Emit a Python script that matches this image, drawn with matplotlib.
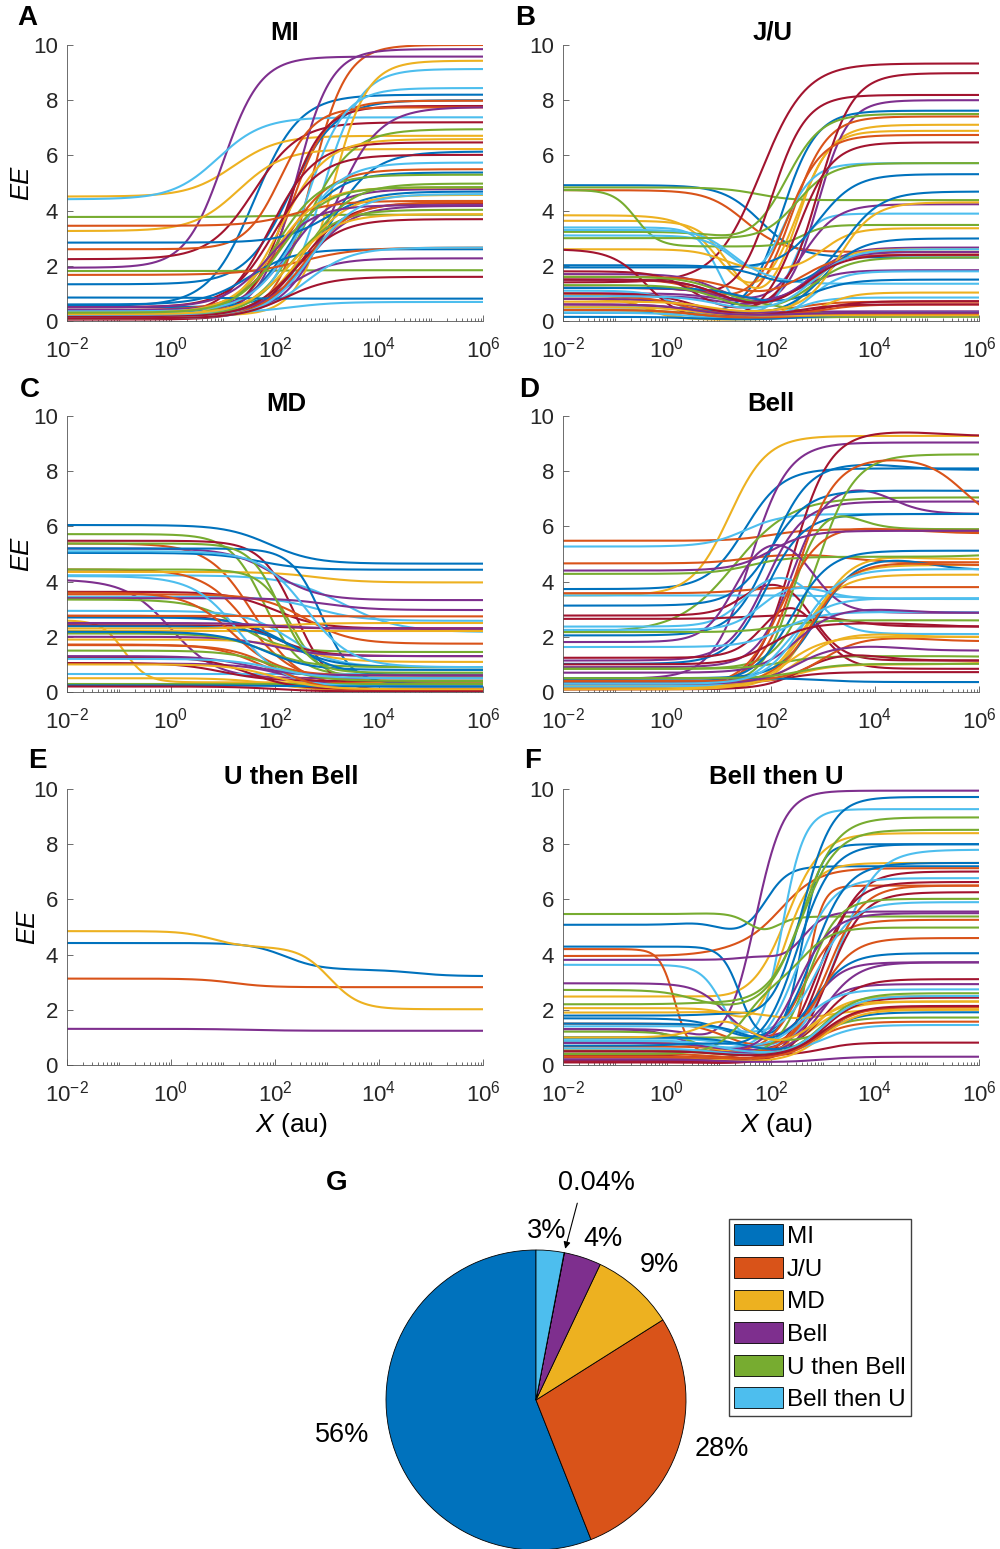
import numpy as np
import matplotlib
matplotlib.use('Agg')
import matplotlib.pyplot as plt
from matplotlib.ticker import LogLocator, NullFormatter

plt.rcParams['font.family'] = ['Liberation Sans', 'DejaVu Sans']
plt.rcParams['mathtext.fontset'] = 'custom'
plt.rcParams['mathtext.rm'] = 'Liberation Sans'
plt.rcParams['mathtext.it'] = 'Liberation Sans:italic'
plt.rcParams['mathtext.bf'] = 'Liberation Sans:bold'

# MATLAB default colour order: blue, orange, yellow, purple, green, light blue, red
matlab = ['#0072BD', '#D95319', '#EDB120', '#7E2F8E', '#77AC30', '#4DBEEE', '#A2142F']

# Every curve = plateau levels + log10(X) of each transition between them,
# read off the figure. Rows of 7 follow the colour order above.

# A  MI : (start, end), (mid,)
mi_levels = [(0.55, 8.20), (0.20, 10.0), (4.51, 6.71), (1.93, 9.58), (3.77, 3.85), (4.41, 7.38), (2.24, 7.20),
             (1.33, 8.00), (0.30, 7.98), (3.26, 6.23), (0.30, 9.85), (1.81, 1.84), (0.15, 9.13), (0.10, 7.79),
             (0.50, 6.14), (2.60, 7.74), (0.20, 9.43), (0.20, 7.75), (0.25, 6.95), (0.30, 8.44), (0.20, 6.47),
             (0.30, 5.38), (0.40, 5.50), (0.15, 6.59), (0.40, 4.78), (0.10, 5.30), (0.35, 5.74), (0.50, 6.02),
             (2.84, 4.69), (3.45, 4.35), (0.30, 4.84), (0.10, 4.17), (0.20, 4.98), (0.30, 0.69), (0.05, 4.27),
             (0.60, 2.60), (1.67, 2.66), (0.10, 4.57), (0.15, 2.27), (0.15, 4.03), (0.20, 2.66), (0.15, 3.69),
             (0.85, 0.81), (0.10, 4.30), (0.25, 3.87), (0.50, 4.20), (0.30, 4.85), (0.10, 4.60), (0.10, 1.60)]
mi_mids = [(1.6,), (2.7,), (1.2,), (1.0,), (2.0,), (0.9,), (1.6,),
           (2.3,), (2.3,), (1.3,), (2.4,), (2.0,), (2.9,), (2.2,),
           (3.0,), (2.1,), (3.1,), (3.1,), (2.6,), (2.6,), (1.9,),
           (2.3,), (2.2,), (2.1,), (2.3,), (2.0,), (2.4,), (2.0,),
           (3.0,), (2.4,), (2.0,), (2.6,), (2.6,), (2.3,), (2.5,),
           (1.5,), (2.5,), (2.5,), (2.2,), (2.3,), (2.6,), (2.4,),
           (1.0,), (2.6,), (2.3,), (1.9,), (2.1,), (2.7,), (2.2,)]
mi_n = [1.0, 1.3, 1.0, 1.2, 1.0, 1.0, 1.0,
        1.0, 1.2, 1.0, 1.3, 1.0, 1.2, 1.2,
        1.0, 1.3, 1.3, 1.0, 1.0, 1.2, 1.0,
        1.0, 1.0, 1.0, 1.0, 1.0, 1.0, 1.0,
        1.0, 1.0, 1.0, 1.0, 1.0, 1.0, 1.0,
        1.0, 0.8, 1.0, 1.0, 1.0, 1.0, 1.0,
        1.0, 1.0, 1.0, 1.0, 1.0, 1.0, 1.0]

# B  J/U : (start, minimum, end), (down mid, up mid)
ju_levels = [(4.92, 2.3, 2.3), (4.74, 2.5, 2.5), (3.83, 0.5, 7.11), (0.9, 0.5, 8.0), (4.84, 4.3, 4.38), (3.39, 0.1, 3.89), (1.4, 1.4, 9.33),
             (0.3, 0.1, 7.62), (1.5, 0.3, 7.41), (3.63, 0.3, 6.89), (1.7, 0.5, 4.23), (4.75, 2.7, 3.48), (3.1, 0.5, 5.72), (1.8, 0.3, 8.98),
             (1.94, 1.9, 5.32), (1.2, 0.5, 6.74), (2.6, 1.8, 3.36), (1.0, 0.6, 2.66), (3.23, 2.8, 7.5), (3.3, 1.7, 1.35), (1.2, 0.6, 8.19),
             (2.02, 1.0, 4.69), (0.8, 0.3, 0.7), (1.0, 0.05, 2.6), (1.2, 0.6, 1.84), (3.0, 2.9, 5.72), (1.1, 0.1, 0.85), (2.6, 0.05, 6.47),
             (0.5, 0.2, 2.99), (1.6, 0.8, 2.4), (0.8, 0.05, 1.03), (0.8, 0.3, 0.35), (1.6, 0.6, 0.2), (0.5, 0.05, 1.8), (1.0, 0.2, 0.72),
             (1.2, 0.5, 1.5), (0.9, 0.2, 0.6), (0.7, 0.3, 4.3), (1.5, 0.4, 2.5), (0.4, 0.1, 0.15), (0.3, 0.05, 0.3), (0.6, 0.15, 0.6),
             (0.15, 0.05, 0.2), (0.4, 0.1, 0.25), (0.5, 0.2, 0.2), (0.6, 0.2, 0.3), (1.3, 0.3, 2.3), (0.9, 0.3, 2.6), (1.5, 0.4, 2.4)]
ju_mids = [(1.8, 3.0), (1.5, 3.0), (1.0, 2.5), (1.0, 2.9), (1.8, 2.5), (1.0, 2.4), (0.0, 1.8),
           (1.0, 2.2), (0.8, 2.4), (1.2, 2.5), (1.0, 2.6), (-0.6, 2.6), (1.4, 2.2), (0.5, 2.9),
           (1.5, 2.9), (1.0, 2.3), (1.1, 3.0), (1.0, 2.8), (1.0, 2.3), (1.2, 2.0), (0.8, 2.0),
           (1.9, 3.4), (0.5, 2.5), (-0.5, 2.8), (1.0, 2.6), (1.5, 2.5), (0.2, 2.5), (-0.4, 2.5),
           (1.0, 3.0), (1.2, 2.6), (-0.3, 3.0), (0.5, 2.5), (1.0, 2.5), (0.8, 2.8), (0.5, 3.0),
           (1.5, 2.8), (0.3, 3.0), (0.8, 3.3), (1.0, 2.7), (0.5, 2.5), (0.5, 2.5), (0.5, 2.5),
           (0.5, 2.5), (0.5, 2.5), (0.5, 2.5), (0.5, 2.5), (1.0, 2.8), (1.0, 2.8), (1.0, 2.7)]
ju_n = [1.2, 1.2, 1.3, 1.5, 1.2, 2.0, 1.0,
        1.3, 1.3, 1.5, 1.3, 2.0, 1.5, 1.3,
        1.2, 1.3, 1.5, 1.3, 1.3, 1.5, 1.3,
        1.2, 1.2, 1.5, 1.3, 1.3, 1.5, 1.3,
        1.2, 1.2, 1.5, 1.2, 1.2, 1.5, 1.2,
        1.2, 1.2, 1.3, 1.2, 1.2, 1.2, 1.2,
        1.2, 1.2, 1.2, 1.2, 1.2, 1.2, 1.2]

# C  MD : (start, end), (mid,)
md_levels = [(6.05, 4.65), (5.38, 0.20), (2.60, 0.35), (4.08, 0.50), (5.72, 0.60), (4.23, 2.17), (5.48, 0.05),
             (5.04, 4.43), (4.44, 0.40), (4.35, 3.97), (5.20, 3.33), (4.44, 0.50), (3.45, 2.58), (3.63, 2.30),
             (5.20, 0.30), (3.54, 1.75), (2.20, 2.20), (3.40, 2.97), (3.35, 1.45), (2.94, 0.90), (2.76, 1.30),
             (2.70, 0.90), (1.72, 0.30), (1.90, 1.09), (2.00, 1.30), (2.12, 0.90), (0.64, 0.64), (2.42, 2.30),
             (2.38, 0.60), (3.60, 0.60), (0.50, 0.05), (1.03, 0.20), (0.30, 0.30), (4.20, 0.20), (1.27, 0.10),
             (2.18, 0.80), (2.76, 2.74), (2.30, 2.50), (2.50, 2.30), (5.38, 0.70), (5.10, 0.90), (1.05, 0.40),
             (0.24, 0.20), (1.70, 0.05), (1.00, 0.10), (1.30, 0.60), (1.50, 0.40), (1.20, 0.50), (0.20, 0.02)]
md_mids = [(1.9,), (1.6,), (-0.9,), (0.0,), (1.8,), (3.3,), (2.4,),
           (1.7,), (1.5,), (2.8,), (2.0,), (2.3,), (2.8,), (2.0,),
           (2.9,), (2.6,), (2.0,), (3.0,), (1.3,), (2.3,), (1.9,),
           (2.2,), (1.7,), (2.5,), (2.0,), (1.8,), (2.0,), (2.0,),
           (2.5,), (1.2,), (2.0,), (2.2,), (2.0,), (1.3,), (1.5,),
           (1.8,), (2.0,), (2.0,), (2.0,), (2.1,), (2.6,), (1.0,),
           (2.0,), (2.0,), (2.0,), (1.5,), (2.0,), (2.0,), (2.0,)]
md_n = [1.0, 1.0, 2.0, 1.0, 1.3, 0.8, 1.3,
        1.0, 1.0, 1.0, 1.0, 1.5, 1.0, 1.0,
        1.5, 1.0, 1.0, 1.0, 1.0, 1.0, 1.0,
        1.0, 1.0, 1.0, 1.0, 1.0, 1.0, 1.0,
        1.0, 1.0, 1.0, 1.0, 1.0, 1.0, 1.0,
        1.0, 1.0, 1.0, 1.0, 1.5, 1.0, 1.0,
        1.0, 1.0, 1.0, 1.0, 1.0, 1.0, 1.0]

# D  Bell : (start, peak, end), (up mid, down mid)
bell_levels = [(3.73, 8.1, 8.1), (5.48, 5.9, 5.75), (3.5, 9.28, 9.28), (0.48, 9.04, 9.04), (2.17, 7.05, 7.05), (5.27, 6.45, 6.45), (0.1, 9.45, 9.28),
               (2.05, 8.3, 8.05), (4.66, 5.0, 4.7), (0.1, 5.0, 4.82), (0.9, 7.6, 6.45), (4.28, 4.9, 5.0), (3.5, 3.5, 3.37), (2.77, 4.3, 1.14),
               (3.13, 7.3, 7.29), (3.58, 3.8, 3.8), (0.2, 4.6, 4.6), (1.14, 6.9, 6.9), (0.84, 8.61, 8.61), (2.37, 4.5, 2.1), (2.65, 2.8, 2.37),
               (1.02, 6.45, 6.45), (0.3, 8.5, 6.06), (0.15, 4.25, 4.25), (1.81, 5.8, 2.87), (0.3, 6.9, 5.9), (2.25, 4.0, 3.37), (1.24, 3.9, 0.84),
               (0.36, 5.12, 5.12), (0.2, 6.06, 5.84), (0.24, 2.15, 1.99), (4.4, 5.84, 5.84), (2.17, 2.6, 2.59), (1.63, 2.9, 2.87), (0.3, 0.72, 0.72),
               (0.5, 4.9, 4.42), (0.3, 4.7, 4.6), (0.3, 1.0, 1.1), (0.7, 3.05, 2.87), (0.84, 1.3, 1.27), (0.2, 3.4, 3.4), (0.1, 1.5, 1.14),
               (0.48, 0.5, 0.36), (0.4, 2.0, 1.84), (0.1, 2.0, 2.0), (0.3, 1.7, 1.5), (0.5, 1.02, 1.02), (0.3, 4.45, 4.45), (1.0, 2.5, 2.37)]
bell_mids = [(1.5, 6), (2.0, 5.0), (1.2, 6), (1.6, 6), (1.3, 6), (1.5, 6), (2.4, 5.2),
             (2.0, 4.5), (1.5, 3.5), (2.8, 4.5), (2.4, 4.3), (1.6, 6), (1.0, 3.5), (1.5, 2.8),
             (2.0, 5.0), (1.5, 6), (2.7, 6), (1.9, 6), (2.9, 6), (1.5, 2.9), (1.5, 3.5),
             (1.9, 6), (2.5, 5.7), (2.6, 6), (1.3, 2.8), (2.4, 3.6), (1.8, 3.0), (1.9, 2.9),
             (2.4, 6), (2.2, 4.0), (2.6, 4.5), (2.0, 6), (2.2, 6), (2.2, 6), (2.3, 6),
             (2.9, 5.0), (2.8, 5.0), (2.5, 6), (2.5, 4.5), (2.2, 6), (2.3, 6), (2.6, 4.0),
             (1.0, 3.0), (3.0, 5.0), (2.3, 6), (2.5, 4.5), (2.6, 6), (2.6, 6), (2.0, 5.0)]
bell_n = [1.2, 1.2, 1.2, 1.2, 0.8, 1.2, 1.2,
          1.2, 1.2, 1.2, 1.3, 1.2, 1.2, 1.5,
          1.2, 1.2, 1.2, 1.2, 1.2, 1.5, 1.2,
          1.2, 1.2, 1.2, 1.5, 1.5, 1.5, 1.5,
          1.2, 1.2, 1.2, 1.2, 1.2, 1.2, 1.2,
          1.2, 1.2, 1.2, 1.2, 1.2, 1.2, 1.2,
          1.2, 1.2, 1.2, 1.2, 1.2, 1.2, 1.2]

# E  U then Bell : (start, middle, end), (first mid, second mid)
ub_levels = [(4.42, 3.45, 3.22), (3.13, 2.82, 2.82), (4.85, 4.28, 2.02), (1.31, 1.24, 1.24)]
ub_mids = [(2.2, 4.7), (1.2, 5.0), (0.8, 3.05), (1.5, 5.0)]
ub_n = [1.3, 1.3, 1.5, 1.0]

# F  Bell then U : (start, bump, dip, end), (bump mid, dip mid, rise mid)
bu_levels = [(5.08, 5.2, 4.7, 7.2), (3.95, 4.25, 4.25, 7.13), (2.48, 2.55, 2.3, 8.4), (1.3, 1.3, 0.6, 9.94), (5.47, 5.5, 4.6, 5.38), (3.63, 3.63, 0.4, 9.27), (0.18, 0.18, 0.05, 7.01),
             (4.29, 4.29, 0.85, 8.0), (4.2, 4.2, 0.4, 6.5), (2.06, 2.3, 0.5, 7.32), (2.96, 3.3, 0.8, 3.72), (2.72, 2.9, 2.0, 8.97), (0.97, 1.0, 0.5, 7.8), (0.36, 0.36, 0.1, 6.63),
             (1.79, 2.0, 1.5, 9.71), (0.67, 0.7, 0.3, 5.26), (0.54, 0.6, 0.3, 2.3), (3.81, 4.0, 3.6, 5.56), (2.2, 2.3, 2.2, 8.52), (0.85, 0.9, 0.3, 6.77), (0.1, 0.1, 0.05, 6.26),
             (1.69, 1.7, 0.6, 7.32), (1.5, 1.6, 0.5, 6.5), (1.9, 2.0, 1.5, 2.02), (1.3, 1.3, 0.5, 2.93), (1.21, 1.2, 0.3, 6.02), (1.4, 1.5, 1.0, 5.9), (0.2, 0.6, 0.35, 3.11),
             (1.5, 1.6, 0.5, 4.05), (0.5, 0.6, 0.3, 4.6), (0.8, 0.8, 0.3, 2.5), (0.5, 0.5, 0.3, 3.72), (1.0, 1.0, 0.7, 1.72), (1.0, 1.0, 0.5, 2.74), (0.1, 0.5, 0.35, 0.81),
             (1.0, 1.0, 0.4, 1.91), (0.4, 0.4, 0.2, 1.57), (0.3, 0.3, 0.1, 2.0), (0.8, 0.8, 0.3, 5.5), (0.4, 3.0, 2.8, 4.98), (0.9, 0.9, 0.4, 1.45), (0.3, 0.3, 0.2, 2.44),
             (0.7, 0.9, 0.3, 8.0), (0.3, 0.3, 0.2, 2.1), (1.0, 2.2, 0.6, 2.3), (0.2, 0.2, 0.1, 0.3), (0.5, 0.5, 0.3, 2.6), (0.6, 0.6, 0.3, 2.5), (0.5, 0.5, 0.3, 2.14)]
bu_mids = [(0.3, 1.0, 1.9), (1.0, 2.0, 2.2), (0.5, 0.9, 2.3), (0.3, 0.6, 1.7), (0.5, 1.6, 2.1), (0.0, 1.1, 2.2), (0.5, 0.7, 3.0),
           (0.0, 1.4, 2.6), (0.0, 0.15, 2.7), (1.0, 1.4, 2.2), (0.9, 1.1, 2.8), (0.3, 0.5, 2.6), (0.5, 1.2, 3.3), (0.5, 0.7, 2.9),
           (1.0, 1.5, 2.6), (0.5, 1.2, 2.6), (0.5, 1.0, 2.8), (1.5, 2.1, 2.6), (0.5, 1.0, 2.6), (0.5, 1.0, 2.5), (0.5, 0.7, 3.1),
           (0.5, 1.2, 2.8), (0.5, 1.1, 3.1), (1.0, 2.0, 3.0), (0.0, 0.3, 2.8), (0.5, 0.6, 2.7), (0.5, 1.2, 2.9), (1.5, 2.1, 3.0),
           (1.0, 1.5, 2.8), (0.5, 1.3, 2.9), (0.5, 1.0, 2.8), (0.5, 1.5, 3.0), (0.5, 2.2, 3.0), (0.5, 1.2, 2.6), (1.7, 2.1, 3.0),
           (0.5, 1.5, 3.0), (0.5, 1.0, 2.8), (0.5, 1.0, 3.0), (0.5, 1.0, 2.5), (1.5, 2.2, 2.6), (0.5, 1.0, 3.0), (0.5, 1.0, 3.0),
           (0.5, 1.3, 2.5), (0.5, 1.0, 3.0), (0.8, 1.5, 2.8), (0.5, 1.0, 3.0), (0.5, 1.0, 3.0), (0.5, 1.0, 3.0), (0.5, 1.0, 3.0)]
bu_n = [2.0, 1.2, 1.3, 1.6, 2.5, 2.0, 1.3,
        2.5, 3.0, 1.5, 1.5, 1.3, 1.2, 1.3,
        1.5, 1.3, 1.2, 2.0, 1.3, 1.3, 1.3,
        1.3, 1.3, 1.2, 1.5, 1.5, 1.3, 1.3,
        1.3, 1.3, 1.3, 1.3, 1.5, 1.3, 1.5,
        1.3, 1.3, 1.3, 1.3, 1.5, 1.3, 1.3,
        1.3, 1.3, 1.5, 1.3, 1.3, 1.3, 1.3]

# G  pie
pie_labels = ['MI', 'J/U', 'MD', 'Bell', 'U then Bell', 'Bell then U']
pie_share = [56, 28, 9, 4, 0.04, 3]


def hill(lx, levels, mids, n):
    # step from one plateau to the next at each log10 midpoint
    y = np.full_like(lx, levels[0])
    for k, m in enumerate(mids):
        y = y + (levels[k + 1] - levels[k]) / (1 + 10 ** (n * (m - lx)))
    return y


lx = np.linspace(-2, 6, 500)
x = 10 ** lx

W, H = 1000, 1549
fig = plt.figure(figsize=(W / 100, H / 100), dpi=100)

# letter, title, data, axes left/top (px), letter position (px), title/xlabel shift (px), ylabel x (px)
panels = [
    ('A', 'MI', mi_levels, mi_mids, mi_n, 67, 45, (27, 18), 10, 22),
    ('B', 'J/U', ju_levels, ju_mids, ju_n, 563, 45, (525, 18), 2, None),
    ('C', 'MD', md_levels, md_mids, md_n, 67, 416, (30, 390), 11, 22),
    ('D', 'Bell', bell_levels, bell_mids, bell_n, 563, 416, (529, 390), 0, None),
    ('E', 'U then Bell', ub_levels, ub_mids, ub_n, 67, 789, (37, 761), 16, 28),
    ('F', 'Bell then U', bu_levels, bu_mids, bu_n, 563, 789, (533, 761), 5, None),
]
axw, axh = 416, 276
axis_col = '#262626'

for letter, title, levels, mids, ns, px, py, lpos, shift, ylx in panels:
    ax = fig.add_axes([px / W, 1 - (py + axh) / H, axw / W, axh / H])
    for i in range(len(levels)):
        ax.plot(x, hill(lx, levels[i], mids[i], ns[i]), color=matlab[i % 7], lw=1.5)
    ax.set_xscale('log')
    ax.set_xlim(1e-2, 1e6)
    ax.set_ylim(0, 10)
    ax.set_xticks([1e-2, 1e0, 1e2, 1e4, 1e6])
    ax.xaxis.set_minor_locator(LogLocator(base=10, subs=np.arange(1, 10), numticks=20))
    ax.xaxis.set_minor_formatter(NullFormatter())
    ax.set_yticks([0, 2, 4, 6, 8, 10])
    for s in ['top', 'right']:
        ax.spines[s].set_visible(False)
    for s in ['left', 'bottom']:
        ax.spines[s].set_color('#555555')
        ax.spines[s].set_linewidth(0.6)
    ax.tick_params(which='both', direction='in', colors='#555555', labelcolor=axis_col,
                   labelsize=16, width=0.6)
    ax.tick_params(which='major', length=4)
    ax.tick_params(which='minor', length=2.5)
    ax.tick_params(axis='x', which='major', pad=11)
    ax.tick_params(axis='y', which='major', pad=6.5)
    ax.set_title(title, fontweight='bold', fontsize=18.5, pad=3, x=0.5 + shift / axw)
    if ylx is not None:
        ax.set_ylabel('EE', fontstyle='italic', fontsize=18.5)
        ax.yaxis.set_label_coords((ylx + 11 - px) / axw, 0.5)
    if letter in 'EF':
        ax.set_xlabel('$X$ (au)', fontsize=19)
        ax.xaxis.set_label_coords(0.5 + shift / axw, -(1111 - 1065) / axh)
    fig.text(lpos[0] / W, 1 - lpos[1] / H, letter, fontsize=20, fontweight='bold',
             ha='center', va='center')

# pie chart
R = 150
pax = fig.add_axes([(536 - R) / W, 1 - (1400 + R) / H, 2 * R / W, 2 * R / H])
wedges, _ = pax.pie(pie_share, colors=matlab[:6], startangle=90, counterclock=True,
                    wedgeprops=dict(edgecolor='black', linewidth=0.6))
pax.set_xlim(-1, 1)
pax.set_ylim(-1, 1)
pax.set_aspect('equal')
pax.axis('off')

label_pos = [(-1.29, -0.23), (1.24, -0.33), (0.82, 0.90), (0.45, 1.07), (0.40, 1.45), (0.07, 1.13)]
for share, (tx, ty) in zip(pie_share, label_pos):
    pax.text(tx, ty, f'{share:g}%', fontsize=19.5, ha='center', va='center', clip_on=False)
pax.annotate('', xy=(0.19, 0.99), xytext=(0.28, 1.33),
             arrowprops=dict(arrowstyle='-|>', color='black', lw=0.8, mutation_scale=10),
             annotation_clip=False)

fig.text(337 / W, 1 - 1183 / H, 'G', fontsize=20, fontweight='bold', ha='center', va='center')

fig.legend(wedges, pie_labels, loc='upper left', bbox_to_anchor=(729 / W, 1 - 1219 / H),
           fontsize=17.5, frameon=True, fancybox=False, edgecolor='#404040', framealpha=1,
           handlelength=2.0, handleheight=0.95, handletextpad=0.16, labelspacing=0.36,
           borderpad=0.22, borderaxespad=0)

fig.savefig('out.png', dpi=100)
